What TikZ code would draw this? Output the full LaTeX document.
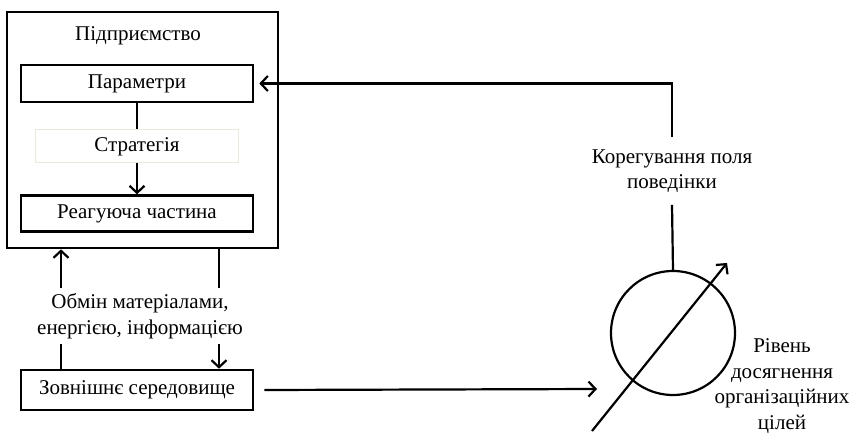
\documentclass[tikz,border=0pt]{standalone}
\usepackage{fontspec}
\setmainfont{Liberation Serif}
\usepackage{tikz}
\usetikzlibrary{arrows.meta,positioning,fit}

\definecolor{paleframe}{RGB}{232,234,220}

\tikzset{
    block/.style={draw, line width=2.6pt, rectangle, minimum width=232pt, inner sep=0pt},
    arr/.style={-{Straight Barb[length=7pt,width=15pt,line width=2.2pt]}},
    link/.style={line width=2.2pt}
}

\begin{document}
\begin{tikzpicture}[x=1pt, y=-1pt, font=\fontsize{21}{25.5}\selectfont, node distance=26pt]
            \useasboundingbox (0,0) rectangle (851,436);
            % enterprise
            \node [draw, line width=2.6pt, rectangle, minimum width=271pt, minimum height=236pt] (firm) at (142.5,130) {};
            \node (title) at (138,36) {Підприємство};
            \node [block, minimum height=37pt] (param) at (137,83.5) {Параметри};
            \node [draw=paleframe, line width=1pt, minimum width=203pt, minimum height=33pt, inner sep=0pt, below = 26pt of param] (strat) {Стратегія};
            \node [block, minimum height=36pt, below = 31pt of strat] (react) {Реагуюча частина};
            \draw [link] (param) -- (strat);
            \draw [link, arr] (strat) -- (react);
            % environment and exchange
            \node [block, minimum height=40pt] (env) at (137,390) {Зовнішнє середовище};
            \node [align=center, inner sep=5pt] (xch) at (140,316) {Обмін матеріалами,\\енергією, інформацією};
            \coordinate (lx) at (61,0);
            \coordinate (rx) at (219,0);
            \draw [link, arr] (xch.north -| lx) -- (firm.south -| lx);
            \draw [link] (env.north -| lx) -- (xch.south -| lx);
            \draw [link] (firm.south -| rx) -- (xch.north -| rx);
            \draw [link, arr] (xch.south -| rx) -- (env.north -| rx);
            % goal level
            \node [draw, circle, line width=2.2pt, minimum size=124pt, inner sep=0pt] (goal) at (673,333) {};
            \node [align=center, inner sep=0pt] (level) at (782,386) {Рівень\\досягнення\\організаційних\\цілей};
            \coordinate (envout) at ([xshift=10pt]env.east);
            \coordinate (hit) at (597,389);
            \draw [link, arr] (envout) -- (hit);
            \coordinate (gbase) at (592,431);
            \coordinate (gtip) at (727,263);
            \draw [link, arr] (gbase) -- (gtip);
            % feedback
            \node [align=center, inner sep=0pt] (corr) at (672,171) {Корегування поля\\поведінки};
            \coordinate (pin) at ([xshift=5pt]param.east);
            \draw [link] (goal.north) -- ([yshift=-12pt]corr.south);
            \draw [link, arr] ([yshift=12pt]corr.north) |- (pin);
\end{tikzpicture}
\end{document}
